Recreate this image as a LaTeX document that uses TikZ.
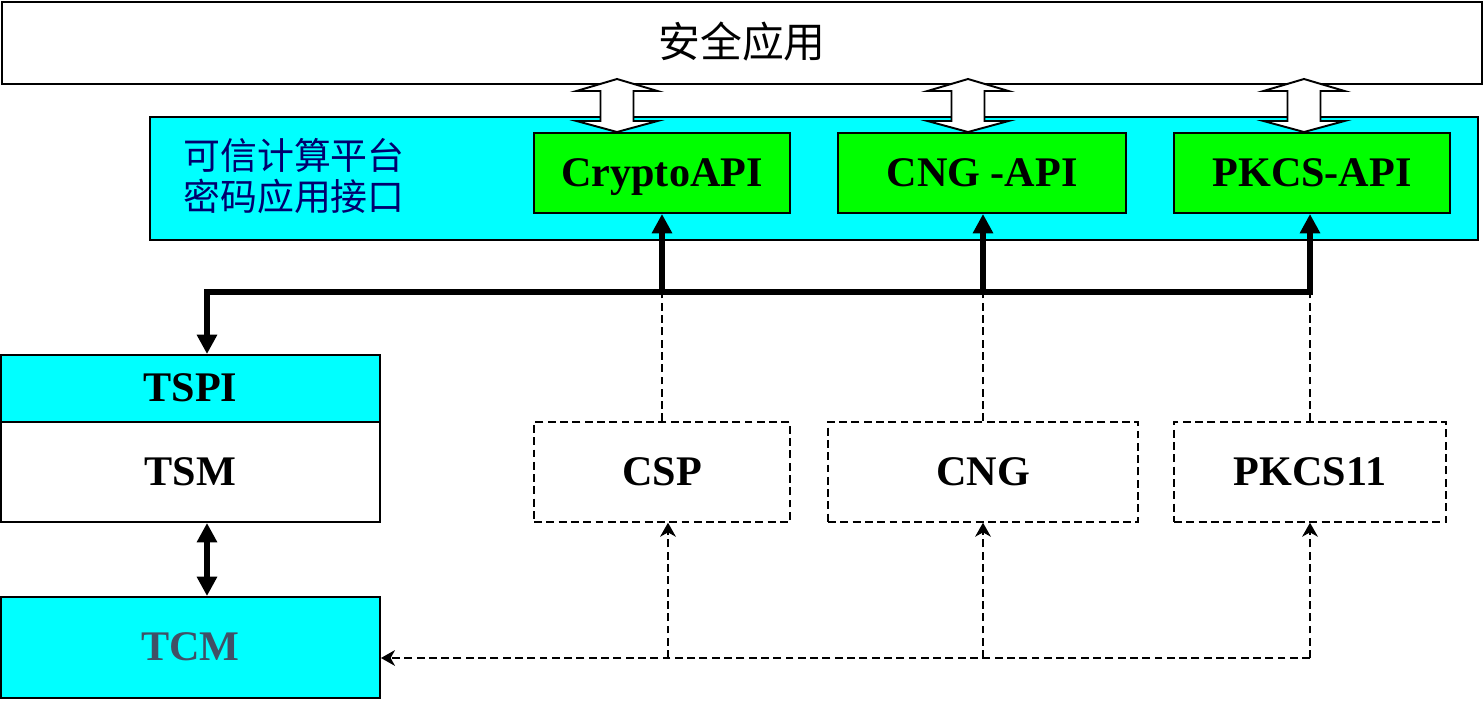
\documentclass[tikz,border=0pt]{standalone}
\usepackage{fontspec}
\setmainfont{Liberation Serif}
\newfontfamily\cjk{Noto Sans CJK SC}
\usetikzlibrary{arrows.meta,calc}

\definecolor{platcyan}{RGB}{0,255,255}
\definecolor{apigreen}{RGB}{0,255,0}
\definecolor{labelnavy}{RGB}{0,0,110}
\definecolor{tcmtext}{RGB}{65,80,102}

\begin{document}
\begin{tikzpicture}[x=0.02cm,y=-0.02cm]
    \tikzset{boxsize/.style 2 args={minimum width=#1*0.02cm,minimum height=#2*0.02cm}}
    \tikzset{box/.style={draw,line width=1.1pt,inner sep=0pt,text height=15pt,text depth=-0.6pt,
                         font=\fontsize{24}{28}\selectfont\bfseries}}
    \tikzset{dashbox/.style={box,line width=0.8pt,dash pattern=on 4.5pt off 2.5pt}}
    \tikzset{bigarrow/.style={line width=3.4pt,-{Triangle[width=11pt,length=11pt]}}}
    \tikzset{dashline/.style={line width=0.8pt,dash pattern=on 4.5pt off 2.5pt}}
    \tikzset{dasharrow/.style={dashline,-{Stealth[width=9pt,length=8pt,inset=2.5pt]}}}
    \useasboundingbox (0,0) rectangle (1484,700);

    % top layer
    \node[box,boxsize={1480}{82},text height=20pt,text depth=3pt,
          font=\cjk\fontsize{23.8}{28}\selectfont] (app) at (742,43) {安全应用};

    % platform interfaces
    \node[box,boxsize={1328}{123},fill=platcyan] (plat) at (814,178.5) {};
    \node[anchor=west,align=left,inner sep=0pt,text=labelnavy,
          font=\cjk\fontsize{21}{23.8}\selectfont] (platlabel) at (183,176) {可信计算平台\\密码应用接口};
    \node[box,boxsize={256}{80},fill=apigreen] (crypto) at (662,173) {CryptoAPI};
    \node[box,boxsize={288}{80},fill=apigreen] (cngapi) at (982,173) {CNG -API};
    \node[box,boxsize={276}{80},fill=apigreen] (pkcsapi) at (1312,173) {PKCS-API};

    % hollow double arrows
    \foreach \x in {617,968,1304}
        \draw[line width=1.1pt,fill=white] (\x,79) -- (\x+40.5,91) -- (\x+16.5,91) -- (\x+16.5,121)
            -- (\x+40.5,121) -- (\x,132) -- (\x-40.5,121) -- (\x-16.5,121) -- (\x-16.5,91)
            -- (\x-40.5,91) -- cycle;

    % TSS stack
    \node[box,boxsize={379}{67},fill=platcyan] (tspi) at (190.5,388.5) {TSPI};
    \node[box,boxsize={379}{100}] (tsm) at (190.5,472) {TSM};
    \node[box,boxsize={379}{101},fill=platcyan,text=tcmtext] (tcm) at (190.5,647.5) {TCM};

    % providers
    \node[dashbox,boxsize={256}{100}] (csp) at (662,472) {CSP};
    \node[dashbox,boxsize={310}{100}] (cng) at (983,472) {CNG};
    \node[dashbox,boxsize={272}{100}] (pkcs11) at (1310,472) {PKCS11};

    % bus
    \coordinate (busL) at (207,292);
    \coordinate (busR) at (1313,292);
    \draw[line width=3.4pt] (busL) -- (busR);
    \draw[bigarrow] ($(busL)+(0,-3)$) -- (tspi.north -| busL);
    \draw[line width=3.4pt,{Triangle[width=11pt,length=11pt]}-{Triangle[width=11pt,length=11pt]}]
        (tsm.south -| busL) -- (tcm.north -| busL);
    \draw[bigarrow] (csp.north |- busL) -- (crypto.south);
    \draw[bigarrow] (cng.north |- busL) -- (cngapi.south -| cng.north);
    \draw[bigarrow] (pkcs11.north |- busL) -- (pkcsapi.south -| pkcs11.north);
    \draw[dashline] (csp.north) -- (csp.north |- busL);
    \draw[dashline] (cng.north) -- (cng.north |- busL);
    \draw[dashline] (pkcs11.north) -- (pkcs11.north |- busL);

    % back to TCM
    \coordinate (ret) at (1310,658);
    \coordinate (cspin) at ($(csp.south)+(6,0)$);
    \draw[dasharrow] (ret) -- (tcm.east |- ret);
    \draw[dasharrow] (cspin |- ret) -- (cspin);
    \draw[dasharrow] (cng.south |- ret) -- (cng.south);
    \draw[dasharrow] (pkcs11.south |- ret) -- (pkcs11.south);
\end{tikzpicture}
\end{document}
